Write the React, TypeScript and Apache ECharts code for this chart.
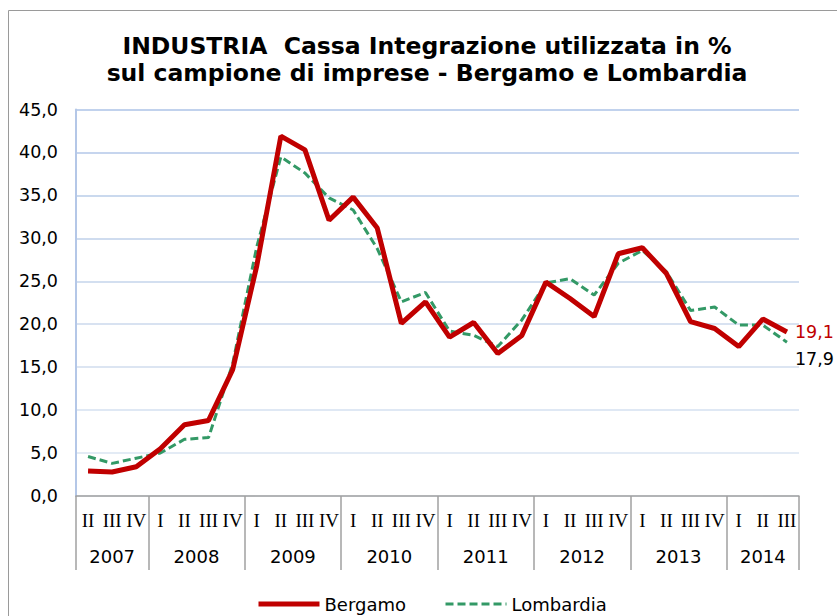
import React, { useEffect, useRef } from "react";
import * as echarts from "echarts";

const quarters = [
  "II", "III", "IV",
  "I", "II", "III", "IV",
  "I", "II", "III", "IV",
  "I", "II", "III", "IV",
  "I", "II", "III", "IV",
  "I", "II", "III", "IV",
  "I", "II", "III", "IV",
  "I", "II", "III",
];
const years = ["2007", "2008", "2009", "2010", "2011", "2012", "2013", "2014"];
const quartersPerYear = [3, 4, 4, 4, 4, 4, 4, 3];

const bergamo = [
  2.9, 2.8, 3.4, 5.5, 8.3, 8.8, 14.7, 26.8, 41.9, 40.3,
  32.1, 34.8, 31.2, 20.1, 22.6, 18.5, 20.2, 16.6, 18.7, 24.9,
  23.0, 20.9, 28.2, 28.9, 25.9, 20.3, 19.5, 17.4, 20.6, 19.1,
];
const lombardia = [
  4.6, 3.8, 4.4, 5.0, 6.6, 6.8, 15.4, 29.0, 39.5, 37.6,
  34.7, 33.3, 28.8, 22.6, 23.7, 19.2, 18.7, 17.4, 20.5, 24.8,
  25.3, 23.4, 27.1, 28.6, 26.1, 21.6, 22.0, 19.9, 19.9, 17.9,
];

const fmt = (v: number) => v.toFixed(1).replace(".", ",");

export default function App() {
  const ref = useRef<HTMLDivElement>(null);
  useEffect(() => {
    document.body.style.margin = "0";
    if (!ref.current) return;
    const chart = echarts.init(ref.current, null, { renderer: "svg" });

    const yearSlots: string[] = [];
    const boundaries = new Set<number>();
    let pos = 0;
    boundaries.add(0);
    for (let y = 0; y < years.length; y++) {
      const span = quartersPerYear[y] * 2;
      for (let k = 0; k < span; k++) {
        yearSlots.push(k === span / 2 ? years[y] : "");
      }
      pos += span;
      boundaries.add(pos);
    }
    yearSlots.push("");

    const gridColors = [
      "#dfe8f4", "#dae4f2", "#d5e0f0", "#d0dcee", "#cbd8ec",
      "#c5d4eb", "#bfd0ea", "#b9cce9", "#b3c7e8", "#adc3e7",
    ];

    chart.setOption({
      animation: false,
      backgroundColor: "#ffffff",
      title: {
        text: "INDUSTRIA  Cassa Integrazione utilizzata in %\nsul campione di imprese - Bergamo e Lombardia",
        left: 422,
        top: 27,
        textAlign: "center",
        textStyle: {
          fontFamily: "DejaVu Sans",
          fontWeight: "bold",
          fontSize: 23.5,
          lineHeight: 27,
          color: "#000",
        },
      },
      graphic: [
        {
          type: "rect",
          shape: { x: 8.5, y: 10.5, width: 900, height: 700 },
          style: { fill: "none", stroke: "#9a9a9a", lineWidth: 1 },
          silent: true,
          z: -10,
        },
      ],
      legend: {
        left: 256,
        top: 595,
        padding: 0,
        itemWidth: 61,
        itemHeight: 10,
        itemGap: 38,
        itemStyle: { opacity: 0 },
        textStyle: { fontFamily: "DejaVu Sans", fontSize: 18, color: "#000" },
        data: [
          { name: "Bergamo", lineStyle: { width: 5, color: "#c00000" } },
          { name: "Lombardia", lineStyle: { width: 3, color: "#339966", type: [8, 4] } },
        ],
      },
      grid: { left: 76, right: 38, top: 109.5, bottom: 120 },
      xAxis: [
        {
          type: "category",
          data: quarters,
          boundaryGap: true,
          position: "bottom",
          axisLine: { show: true, lineStyle: { color: "#a0a0a0", width: 1.5 } },
          axisTick: { show: false },
          axisLabel: {
            interval: 0,
            margin: 15,
            fontFamily: "Liberation Serif",
            fontSize: 19,
            color: "#000",
          },
        },
        {
          type: "category",
          data: yearSlots,
          boundaryGap: false,
          position: "bottom",
          axisLine: { show: false },
          axisTick: {
            show: true,
            length: 74,
            interval: (i: number) => boundaries.has(i),
            lineStyle: { color: "#a0a0a0", width: 1.5 },
          },
          axisLabel: {
            interval: 0,
            margin: 51,
            fontFamily: "DejaVu Sans",
            fontSize: 18,
            color: "#000",
          },
        },
      ],
      yAxis: {
        type: "value",
        min: 0,
        max: 45,
        interval: 5,
        axisLine: { show: true, lineStyle: { color: "#b4c7e7", width: 2 } },
        axisTick: { show: false },
        splitLine: { show: true, lineStyle: { color: gridColors, width: 1.5 } },
        axisLabel: {
          margin: 18,
          fontFamily: "DejaVu Sans",
          fontSize: 17.5,
          color: "#000",
          formatter: (v: number) => fmt(v),
        },
      },
      series: [
        {
          name: "Lombardia",
          type: "line",
          xAxisIndex: 0,
          data: lombardia,
          symbol: "none",
          lineStyle: { color: "#339966", width: 3, type: [8, 4] },
          itemStyle: { color: "#339966" },
          endLabel: {
            show: true,
            formatter: (p: any) => fmt(p.value),
            fontFamily: "DejaVu Sans",
            fontSize: 17.5,
            color: "#000",
            distance: 8,
            offset: [0, 17],
          },
          z: 2,
        },
        {
          name: "Bergamo",
          type: "line",
          xAxisIndex: 0,
          data: bergamo,
          symbol: "none",
          lineStyle: { color: "#c00000", width: 5 },
          itemStyle: { color: "#c00000" },
          endLabel: {
            show: true,
            formatter: (p: any) => fmt(p.value),
            fontFamily: "DejaVu Sans",
            fontSize: 17.5,
            color: "#c00000",
            distance: 8,
          },
          z: 3,
        },
      ],
    });
    return () => chart.dispose();
  }, []);
  return <div ref={ref} style={{ width: 837, height: 616 }} />;
}
